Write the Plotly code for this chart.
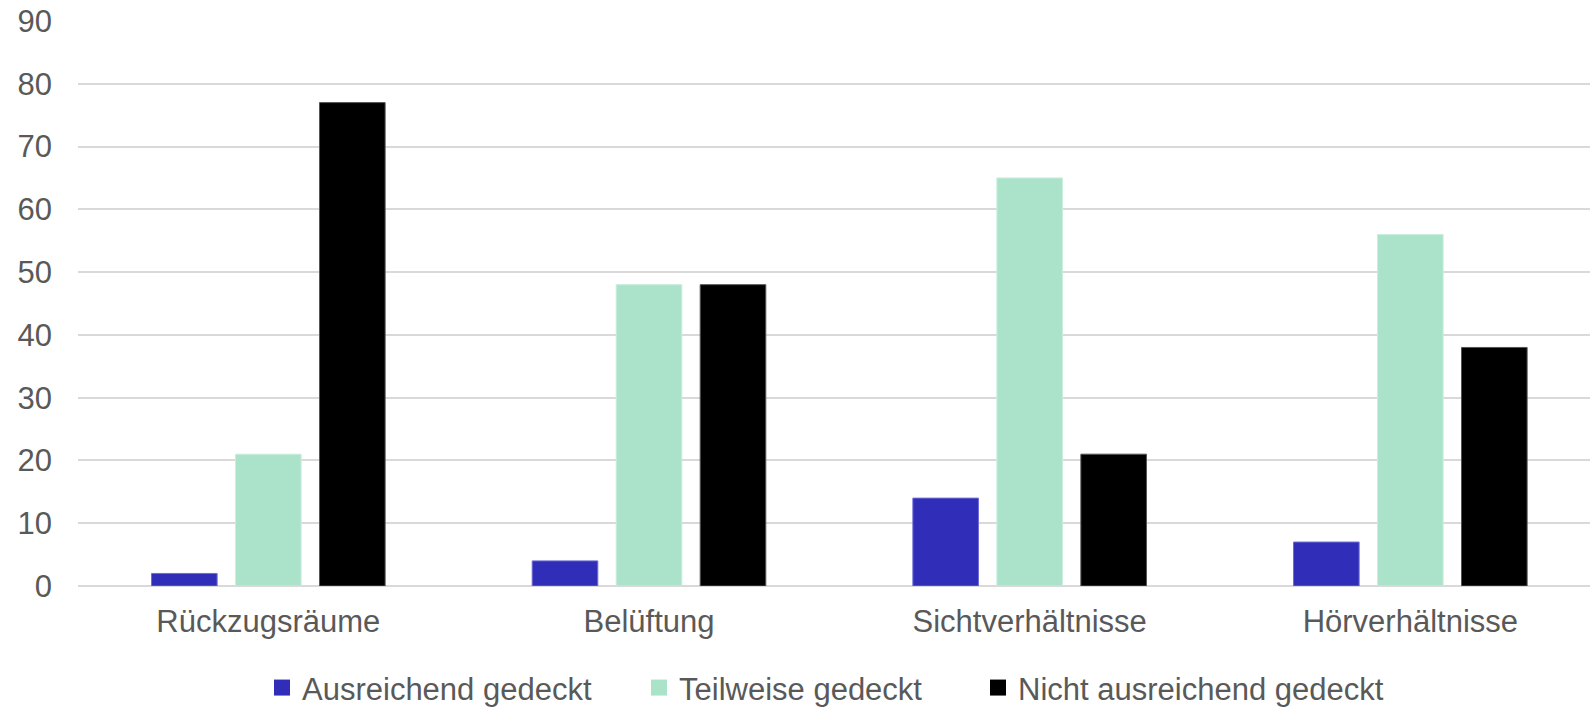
import plotly.graph_objects as go

# Kategorien und Werte je Bewertungsstufe
categories = ["Rückzugsräume", "Belüftung", "Sichtverhältnisse", "Hörverhältnisse"]
series_names = ["Ausreichend gedeckt", "Teilweise gedeckt", "Nicht ausreichend gedeckt"]
ausreichend = [2, 4, 14, 7]
teilweise = [21, 48, 65, 56]
nicht_ausreichend = [77, 48, 21, 38]
y_ticks = [0, 10, 20, 30, 40, 50, 60, 70, 80, 90]

values = [ausreichend, teilweise, nicht_ausreichend]
fill_colors = ["#302DB8", "#ABE3CA", "#000000"]
edge_colors = ["#6E6CD6", "#C9EEDD", "#555555"]
legend_widths = [332, 294, 380]

TEXT = "#595959"
GRID = "#D9D9D9"
FONT = "Liberation Sans, Arial, sans-serif"

fig = go.Figure()

for name, vals, fc, ec in zip(series_names, values, fill_colors, edge_colors):
    fig.add_trace(go.Bar(
        x=categories, y=vals, name=name,
        marker=dict(color=fc, line=dict(color=ec, width=1)),
        showlegend=False, hoverinfo="x+y+name",
    ))

# Legendeneinträge mit größeren quadratischen Symbolen
for name, fc, lw in zip(series_names, fill_colors, legend_widths):
    fig.add_trace(go.Scatter(
        x=[None], y=[None], mode="markers", name=name,
        marker=dict(symbol="square", size=16, color=fc),
        legendwidth=lw, hoverinfo="skip",
    ))

fig.update_layout(
    width=1590, height=707,
    margin=dict(l=78, r=0, t=21, b=121, pad=0),
    paper_bgcolor="white", plot_bgcolor="white",
    font=dict(family=FONT, size=31, color=TEXT),
    barmode="group", bargap=0.338, bargroupgap=0.219,
    legend=dict(
        orientation="h", x=0.1217, xanchor="left",
        yref="container", y=0.027, yanchor="middle",
        font=dict(family=FONT, size=31, color=TEXT),
        itemsizing="trace", bgcolor="rgba(0,0,0,0)",
        borderwidth=0,
        itemclick=False, itemdoubleclick=False,
    ),
    xaxis=dict(
        type="category", range=[-0.5, 3.472],
        showgrid=False, showline=False, zeroline=False,
        ticks="", tickfont=dict(family=FONT, size=31, color=TEXT),
        ticklabelstandoff=14,
    ),
    yaxis=dict(
        range=[0, 90], tickvals=y_ticks,
        showgrid=True, gridcolor=GRID, gridwidth=1.5,
        zeroline=True, zerolinecolor=GRID, zerolinewidth=2,
        showline=False, ticks="",
        tickfont=dict(family=FONT, size=31, color=TEXT),
        ticklabelstandoff=25,
    ),
)

fig.write_html("out.html")
